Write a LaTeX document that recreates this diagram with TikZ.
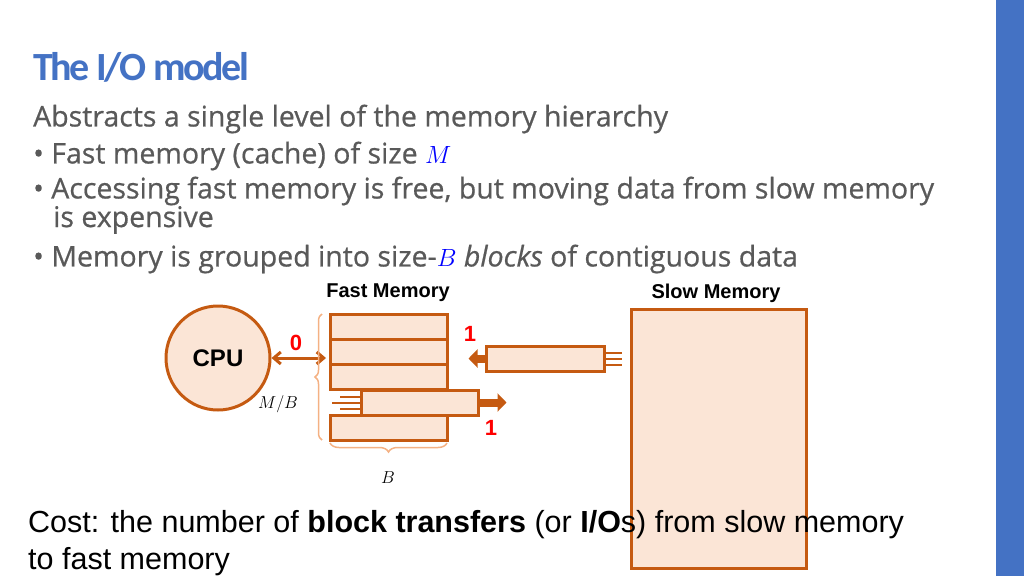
\documentclass[tikz,border=0pt]{standalone}
\usepackage{fontspec}
\setmainfont{Open Sans}
\setsansfont{Liberation Sans}
\newfontfamily\titlefont{Carlito}
\usetikzlibrary{arrows.meta,decorations.pathreplacing}
\definecolor{rust}{HTML}{C55A11}
\definecolor{peach}{HTML}{FBE5D6}
\definecolor{lightrust}{HTML}{F4B183}
\definecolor{slideblue}{HTML}{4472C4}
\definecolor{bodygray}{HTML}{595959}
\begin{document}
\begin{tikzpicture}[x=1pt,y=-1pt,
	blk/.style={draw=rust, fill=peach, line width=3pt},
	lbl/.style={font=\sffamily\bfseries\fontsize{20}{22}\selectfont},
	cnt/.style={text=red, font=\sffamily\bfseries\fontsize{22}{24}\selectfont},
	body/.style={anchor=west, text=bodygray, font=\fontsize{28.5}{32}\selectfont\addfontfeatures{FakeBold=0.6}, inner sep=0pt},
	cost/.style={anchor=west, inner sep=0pt, font=\sffamily\fontsize{30.5}{33}\selectfont},
	brc/.style={draw=lightrust, line width=1.5pt, decorate}]
	\useasboundingbox (0,0) rectangle (1024,576);
	\fill[slideblue] (996,0) rectangle (1024,576);
	% title and text
	\node[anchor=west, inner sep=0pt, text=slideblue, font=\titlefont\bfseries\fontsize{40}{42}\selectfont\addfontfeatures{LetterSpace=-6}] (title) at (33,67) {The I/O model};
	\node[body] (t1) at (33,119) {Abstracts a single level of the memory hierarchy};
	\node[body] (t2) at (33,156) {\textbullet\ Fast memory (cache) of size \textcolor{blue}{$M$}};
	\node[body] (t3) at (33,191) {\textbullet\ Accessing fast memory is free, but moving data from slow memory};
	\node[body] (t4) at (53,220) {is expensive};
	\node[body] (t5) at (33,259) {\textbullet\ Memory is grouped into size-\textcolor{blue}{$B$} \textit{blocks} of contiguous data};
	% headings
	\node[lbl] (fast) at (388,293) {Fast Memory};
	\node[lbl] (slow) at (716,293) {Slow Memory};
	% cpu
	\node[circle, blk, minimum size=104pt, font=\sffamily\bfseries\fontsize{24}{26}\selectfont] (cpu) at (218,358) {CPU};
	% fast memory rows
	\node[blk, minimum width=117pt, minimum height=25pt, inner sep=0pt] (r1) at (388.5,326.5) {};
	\node[blk, minimum width=117pt, minimum height=25pt, inner sep=0pt] (r2) at (388.5,351.5) {};
	\node[blk, minimum width=117pt, minimum height=25pt, inner sep=0pt] (r3) at (388.5,376.5) {};
	\node[blk, minimum width=117pt, minimum height=25pt, inner sep=0pt] (r5) at (388.5,427.5) {};
	\node[blk, minimum width=117pt, minimum height=25pt, inner sep=0pt] (out) at (419.5,402.5) {};
	\node[blk, minimum width=118pt, minimum height=25pt, inner sep=0pt] (in) at (545,358.5) {};
	% slow memory
	\node[blk, minimum width=175pt, minimum height=259pt, inner sep=0pt] (mem) at (718.5,438.5) {};
	% motion lines
	\foreach \dy/\len in {-6/-20,0/-28,6/-20} {
		\draw[rust, line width=2pt] ([yshift=\dy pt]in.east) -- ++(16,0);
		\draw[rust, line width=2pt] ([yshift=\dy pt]out.west) -- ++(\len,0);
	}
	\draw[-{Triangle[length=9pt,width=18pt]}, rust, line width=8pt] (in.west) -- ++(-16,0) coordinate (inhead);
	\draw[-{Triangle[length=9pt,width=18pt]}, rust, line width=8pt] (out.east) -- ++(27,0) coordinate (outhead);
	% cpu link
	\draw[{Straight Barb[length=7pt,width=12pt]}-{Straight Barb[length=7pt,width=12pt]}, rust, line width=3pt] (cpu.east) -- (326,358);
	\node[cnt] (n0) at (296,343) {0};
	\node[cnt] (n1) at (470,334) {1};
	\node[cnt] (n2) at (491,428) {1};
	% braces
	\draw[brc, decoration={brace, amplitude=7pt}] (322,440) -- (322,314);
	\draw[brc, decoration={brace, amplitude=9pt}] (447,443) -- (330,443);
	\node[font=\fontsize{18}{20}\selectfont] (mb) at (278,404) {$M/B$};
	\node[font=\fontsize{16}{18}\selectfont] (bb) at (388,478) {$B$};
	% cost line
	\node[cost] (c1) at (28,525) {Cost: the number of \textbf{block transfers} (or \textbf{I/O}s) from slow memory};
	\node[cost] (c2) at (28,562) {to fast memory};
\end{tikzpicture}
\end{document}
